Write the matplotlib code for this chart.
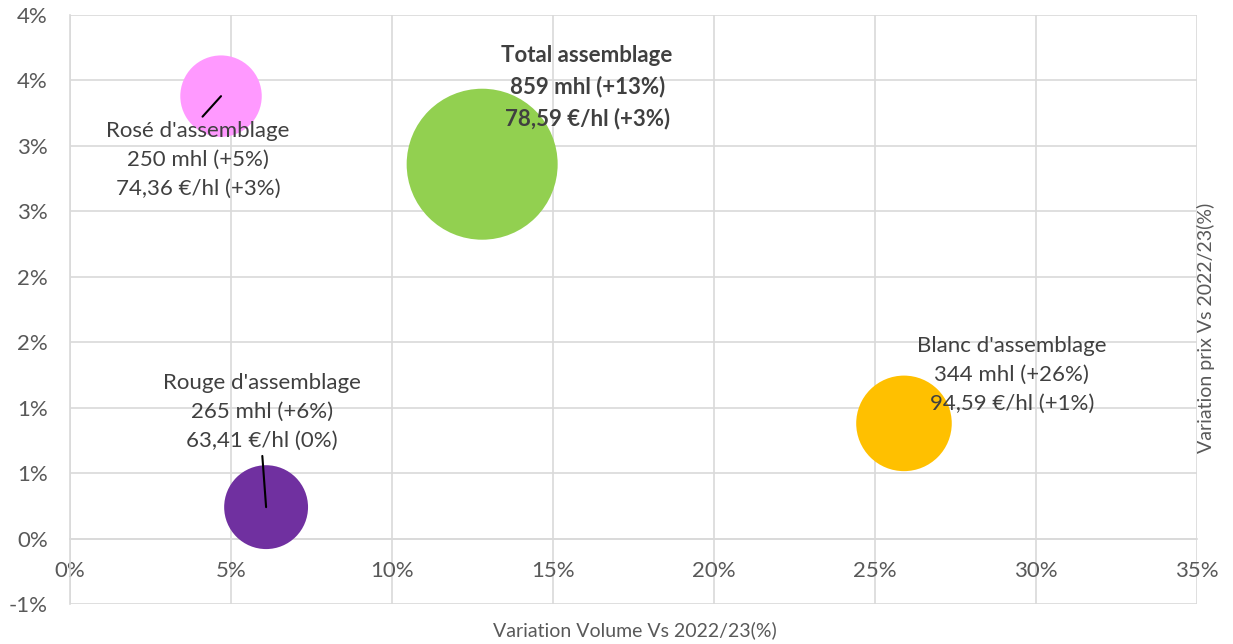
import numpy as np
import matplotlib.pyplot as plt
from matplotlib.ticker import FuncFormatter, MultipleLocator

plt.rcParams['font.family'] = ['Lato', 'DejaVu Sans']

# données
produits = ["Rosé d'assemblage", "Rouge d'assemblage", "Blanc d'assemblage", "Total assemblage"]
var_volume = [4.69, 6.09, 25.9, 12.8]      # % variation volume vs 2022/23
var_prix = [3.38, 0.24, 0.88, 2.86]        # % variation prix vs 2022/23
volumes = [250, 265, 344, 859]             # mhl
prix = ["74,36", "63,41", "94,59", "78,59"]  # €/hl
vol_lbl = ["+5%", "+6%", "+26%", "+13%"]
prix_lbl = ["+3%", "0%", "+1%", "+3%"]
couleurs = ['#FF99FF', '#7030A0', '#FFC000', '#92D050']

# position des étiquettes (x, y en %)
pos_lbl = [(3.98, 2.89), (5.96, 0.97), (29.25, 1.25), (16.06, 3.45)]
leader = [True, True, False, False]

fig = plt.figure(figsize=(12.33, 6.44), dpi=100)
ax = fig.add_axes([70 / 1233, 1 - 604 / 644, (1197 - 70) / 1233, (604 - 15) / 644])

ax.scatter(var_volume, var_prix, s=[v * 13.76 for v in volumes], c=couleurs,
           linewidths=0, zorder=3)

for i, nom in enumerate(produits):
    txt = f"{nom}\n{volumes[i]} mhl ({vol_lbl[i]})\n{prix[i]} €/hl ({prix_lbl[i]})"
    gras = 'bold' if nom.startswith('Total') else 'normal'
    if leader[i]:
        rel = (0.5, 1) if var_prix[i] > pos_lbl[i][1] else (0.5, 0)
        ax.annotate(txt, xy=(var_volume[i], var_prix[i]), xytext=pos_lbl[i],
                    ha='center', va='center', fontsize=16, color='#404040',
                    fontweight=gras, linespacing=1.55, zorder=4,
                    arrowprops=dict(arrowstyle='-', color='black', lw=1.5,
                                    relpos=rel, shrinkA=2, shrinkB=0))
    else:
        ax.text(pos_lbl[i][0], pos_lbl[i][1], txt, ha='center', va='center',
                fontsize=16, color='#404040', fontweight=gras,
                linespacing=1.55, zorder=4)

ax.set_xlim(0, 35)
ax.set_ylim(-0.5, 4)
ax.xaxis.set_major_locator(MultipleLocator(5))
ax.yaxis.set_major_locator(MultipleLocator(0.5))


def pct(v, pos):
    r = np.sign(v) * np.floor(abs(v) + 0.5 + 1e-9)
    return f"{int(r)}%"


ax.xaxis.set_major_formatter(FuncFormatter(pct))
ax.yaxis.set_major_formatter(FuncFormatter(pct))

ax.grid(True, color='#D9D9D9', lw=1.2, zorder=0)
ax.set_axisbelow(True)
for s in ['top', 'right']:
    ax.spines[s].set_visible(False)
ax.spines['left'].set_color('#D9D9D9')
ax.spines['left'].set_linewidth(1.2)
ax.spines['bottom'].set_position(('data', 0))
ax.spines['bottom'].set_color('#D9D9D9')
ax.spines['bottom'].set_linewidth(1.2)
ax.tick_params(length=0, labelsize=16, labelcolor='#595959')
ax.tick_params(axis='x', pad=16)
ax.tick_params(axis='y', pad=16)

fig.text(635 / 1233, 1 - 630 / 644, "Variation Volume Vs 2022/23(%)",
         ha='center', va='center', fontsize=14, color='#595959')
fig.text(1206 / 1233, 1 - 328 / 644, "Variation prix Vs 2022/23(%)",
         ha='center', va='center', rotation=90, fontsize=14, color='#595959')

fig.savefig('out.png', dpi=100)
